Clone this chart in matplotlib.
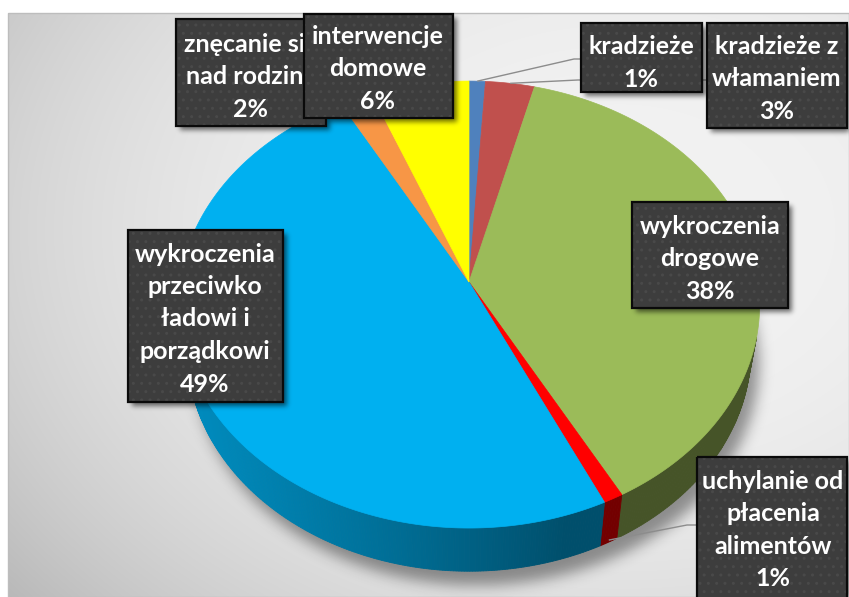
import numpy as np
import matplotlib
matplotlib.use("Agg")
import matplotlib.pyplot as plt
from matplotlib.patches import Polygon, Rectangle
from matplotlib.path import Path

# ---- data -------------------------------------------------------------
categories = [
    "kradzieże",
    "kradzieże z włamaniem",
    "wykroczenia drogowe",
    "uchylanie od płacenia alimentów",
    "wykroczenia przeciwko ładowi i porządkowi",
    "znęcanie się nad rodziną",
    "interwencje domowe",
]
label_names = [
    "kradzieże",
    "kradzieże z\nwłamaniem",
    "wykroczenia\ndrogowe",
    "uchylanie od\npłacenia\nalimentów",
    "wykroczenia\nprzeciwko\nładowi i\nporządkowi",
    "znęcanie się\nnad rodziną",
    "interwencje\ndomowe",
]
shares = [1, 3, 38, 1, 49, 2, 6]
colors = ["#4f81bd", "#c0504d", "#9bbb59", "#ff0000", "#00b0f0", "#f79646", "#ffff00"]

# ---- label layout (pixel space) ---------------------------------------
box_rects = [            # x0, y0, x1, y1
    (581, 23, 702, 92),
    (707, 23, 847, 128),
    (632, 202, 788, 308),
    (697, 457, 847, 606),
    (128, 230, 283, 402),
    (176, 19, 326, 126),
    (304, 14, 453, 118),
]
text_centers = [(641, 61), (777, 77), (710, 257), (773, 528),
                (205, 317), (251, 75), (378, 67)]
leader_routes = {0: [(574, 59), (581, 59)],
                 1: [(578, 80), (707, 80)],
                 3: [(687, 525), (697, 525)]}
LINE_PITCH = 32.5
FONT = "Lato"

W, HPX = 849, 597
fig = plt.figure(figsize=(W / 100, HPX / 100), dpi=100)
fig.patch.set_facecolor("white")
ax = fig.add_axes([0, 0, 1, 1])
ax.set_xlim(0, W)
ax.set_ylim(HPX, 0)
ax.axis("off")

# ---- chart area background -------------------------------------------
PX0, PY0 = 8, 13
ys, xs = np.mgrid[PY0:HPX, PX0:W] + 0.5
r = np.hypot((xs - 620) / 650, (ys - 230) / 480)
val = np.clip(0.95 - 0.14 * r ** 2.5, 0, 1)
ax.imshow(np.dstack([val] * 3), extent=(PX0, W, HPX, PY0), origin="upper",
          interpolation="bilinear", zorder=0)
ax.add_patch(Rectangle((PX0, PY0), W - PX0, HPX - PY0, fill=False,
                       ec="#bdbdbd", lw=1, zorder=0.5))
ax.set_aspect("auto")

# ---- 3D pie projection ------------------------------------------------
TILT = np.radians(49.9)
DIST = 6.38
FOCAL = 1845.0
THICK = 0.256
CX, CY = 469.0, 282.0


def project(theta, h):
    x = np.sin(theta)
    z = -np.cos(theta)
    d = DIST - (h * np.sin(TILT) + z * np.cos(TILT))
    px = CX + x * FOCAL / d
    py = CY - (h * np.cos(TILT) - z * np.sin(TILT)) * FOCAL / d
    return px, py


def gauss_blur(img, sigma):
    rad = int(3 * sigma)
    k = np.exp(-0.5 * (np.arange(-rad, rad + 1) / sigma) ** 2)
    k /= k.sum()
    img = np.apply_along_axis(lambda m: np.convolve(m, k, mode="same"), 0, img)
    img = np.apply_along_axis(lambda m: np.convolve(m, k, mode="same"), 1, img)
    return img


gy, gx = np.mgrid[0:HPX, 0:W] + 0.5
grid_pts = np.column_stack([gx.ravel(), gy.ravel()])

# soft shadow under the pie
full = np.linspace(0, 2 * np.pi, 361)
bx, by = project(full, -THICK)
foot = Path(np.column_stack([bx + 8, by + 14]))
mask = foot.contains_points(grid_pts).reshape(HPX, W).astype(float)
sh = gauss_blur(mask, 7.0)
rgba = np.zeros((HPX, W, 4))
rgba[..., 3] = 0.4 * sh
ax.imshow(rgba, extent=(0, W, HPX, 0), origin="upper", zorder=1)
ax.set_aspect("auto")

total = float(sum(shares))
bounds = np.concatenate([[0.0], np.cumsum(shares)]) / total * 2 * np.pi

# side walls (only the camera-facing part)
LIGHT = (-0.8, 0.25)
for i, (a0, a1) in enumerate(zip(bounds[:-1], bounds[1:])):
    base = np.array(matplotlib.colors.to_rgb(colors[i]))
    n = max(2, int(np.degrees(a1 - a0) * 2)) + 1
    th = np.linspace(a0, a1, n)
    for t0, t1 in zip(th[:-1], th[1:]):
        tm = 0.5 * (t0 + t1)
        if -1 - DIST * np.cos(TILT) * np.cos(tm) <= 0:
            continue
        nx, nz = np.sin(tm), -np.cos(tm)
        shade = 0.45 + 0.4 * max(0.0, nx * LIGHT[0] + nz * LIGHT[1])
        c = np.clip(base * shade, 0, 1)
        p0 = project(t0, 0)
        p1 = project(t1, 0)
        p2 = project(t1, -THICK)
        p3 = project(t0, -THICK)
        ax.add_patch(Polygon([p0, p1, p2, p3], closed=True, fc=c, ec=c,
                             lw=0.6, zorder=2))

# top faces
for i, (a0, a1) in enumerate(zip(bounds[:-1], bounds[1:])):
    th = np.linspace(a0, a1, max(3, int(np.degrees(a1 - a0) * 2)))
    px, py = project(th, 0)
    pts = [(CX, CY)] + list(zip(px, py))
    ax.add_patch(Polygon(pts, closed=True, fc=colors[i], ec=colors[i],
                         lw=0.5, zorder=3))

# ---- leader lines ------------------------------------------------------
for i, route in leader_routes.items():
    mid = 0.5 * (bounds[i] + bounds[i + 1])
    h = 0 if i < 2 else -THICK * 0.95
    sx, sy = project(mid, h)
    xs_l = [sx] + [p[0] for p in route]
    ys_l = [sy] + [p[1] for p in route]
    ax.plot(xs_l, ys_l, color="#8c8c8c", lw=1.0, zorder=4,
            solid_capstyle="butt")

# ---- label boxes --------------------------------------------------------
bmask = np.zeros((HPX, W))
for (x0, y0, x1, y1) in box_rects:
    bmask[max(0, y0 + 4):min(HPX, y1 + 4), max(0, x0 + 4):min(W, x1 + 4)] = 1
bsh = gauss_blur(bmask, 2.5)
rgba2 = np.zeros((HPX, W, 4))
rgba2[..., 3] = 0.55 * bsh
ax.imshow(rgba2, extent=(0, W, HPX, 0), origin="upper", zorder=5)
ax.set_aspect("auto")

for i, (x0, y0, x1, y1) in enumerate(box_rects):
    z = 10 + 3 * i
    ax.add_patch(Rectangle((x0, y0), x1 - x0, y1 - y0, fc="#3d3d3d",
                           ec="none", zorder=z))
    ax.add_patch(Rectangle((x0, y0), x1 - x0, y1 - y0, fill=False,
                           hatch="..", ec="#494949", lw=0, zorder=z + 0.5))
    ax.add_patch(Rectangle((x0, y0), x1 - x0, y1 - y0, fill=False,
                           ec="#0a0a0a", lw=1.6, zorder=z + 1))
    lines = label_names[i].split("\n") + [f"{shares[i]}%"]
    cx, cy = text_centers[i]
    top = cy - LINE_PITCH * (len(lines) - 1) / 2
    for k, line in enumerate(lines):
        ax.text(cx, top + k * LINE_PITCH, line, ha="center", va="center_baseline",
                color="white", fontsize=18, fontweight="bold",
                family=[FONT, "DejaVu Sans"], zorder=z + 2)

fig.savefig("out.png", dpi=100, facecolor="white")
